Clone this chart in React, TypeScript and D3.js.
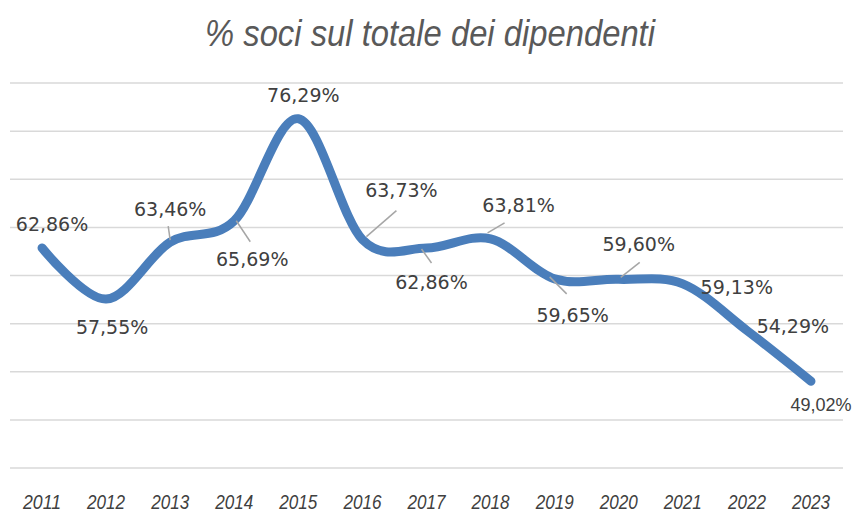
import React from 'react';
import * as d3 from 'd3';

const years = ['2011', '2012', '2013', '2014', '2015', '2016', '2017', '2018', '2019', '2020', '2021', '2022', '2023'];
const shares = [62.86, 57.55, 63.46, 65.69, 76.29, 63.73, 62.86, 63.81, 59.65, 59.6, 59.13, 54.29, 49.02];
const gridTicks = [40, 45, 50, 55, 60, 65, 70, 75, 80];

// label placement relative to the point: [dx, dy(baseline), leader?]
const labelOffsets: [number, number, number[] | null][] = [
  [10, -17, null],
  [6, 35, null],
  [0, -26, [0, -2, -2, -16]],
  [18, 45, [2, 0, 16, 21]],
  [5, -17, null],
  [39, -43, [4, -3, 34, -29]],
  [5, 41, [-5, 1, 5, 15]],
  [28, -27, [-3, -6, 14, -16]],
  [18, 43, [-5, -2, 12, 15]],
  [20, -28, [2, -2, 21, -17]],
  [54, 10, null],
  [46, 3, null],
  [10, 30, null],
];

const W = 863;
const H = 512;
const narrow = "'Liberation Sans Narrow', 'Arial Narrow', 'Liberation Sans', sans-serif";

export default function App() {
  const x = d3.scaleBand().domain(years).range([10, 843]);
  const y = d3.scaleLinear().domain([40, 80]).range([468, 83]);
  const cx = (d: string) => (x(d) as number) + x.bandwidth() / 2;

  const line = d3
    .line<number>()
    .x((_, i) => cx(years[i]))
    .y((d) => y(d))
    .curve(d3.curveCardinal.tension(0));

  return (
    <svg width={W} height={H} style={{ position: 'absolute', left: 0, top: 0, background: '#fff' }}>
      <text
        x={430}
        y={46}
        textAnchor="middle"
        fill="#595959"
        fontSize={36}
        fontStyle="italic"
        fontFamily={narrow}
        textLength={450}
        lengthAdjust="spacingAndGlyphs"
      >
        % soci sul totale dei dipendenti
      </text>

      {gridTicks.map((t) => (
        <line key={t} x1={10} x2={843} y1={y(t)} y2={y(t)} stroke="#d9d9d9" strokeWidth={1.5} />
      ))}

      <path d={line(shares) || ''} fill="none" stroke="#4a7ebb" strokeWidth={9} strokeLinecap="round" strokeLinejoin="round" />

      {shares.map((v, i) => {
        const px = cx(years[i]);
        const py = y(v);
        const [dx, dy, leader] = labelOffsets[i];
        const last = i === shares.length - 1;
        return (
          <g key={years[i]}>
            {leader && (
              <line
                x1={px + leader[0]}
                y1={py + leader[1]}
                x2={px + leader[2]}
                y2={py + leader[3]}
                stroke="#a6a6a6"
                strokeWidth={1.5}
              />
            )}
            <text
              x={px + dx}
              y={py + dy}
              textAnchor="middle"
              fill="#404040"
              fontSize={last ? 18 : 19}
              fontFamily={last ? narrow : "'DejaVu Sans', Verdana, sans-serif"}
            >
              {v.toFixed(2).replace('.', ',')}%
            </text>
          </g>
        );
      })}

      {years.map((yr) => (
        <text
          key={yr}
          x={cx(yr)}
          y={509}
          textAnchor="middle"
          fill="#404040"
          fontSize={21}
          fontStyle="italic"
          fontFamily={narrow}
          textLength={38}
          lengthAdjust="spacingAndGlyphs"
        >
          {yr}
        </text>
      ))}
    </svg>
  );
}
